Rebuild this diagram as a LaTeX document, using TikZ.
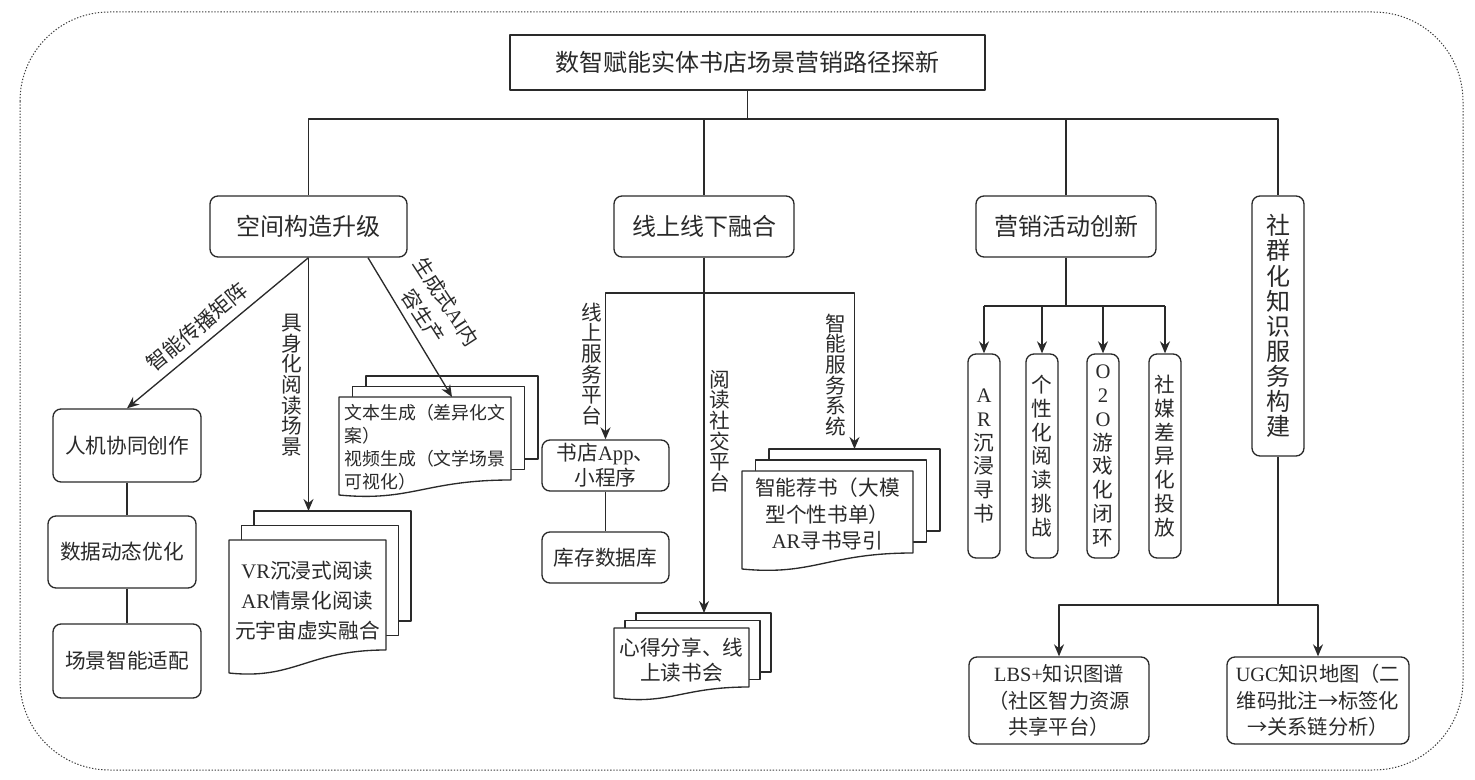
\documentclass[tikz,border=0pt]{standalone}
\usepackage{fontspec}
\setmainfont{Noto Sans CJK SC}
\newfontfamily\lat{Liberation Serif}
\usetikzlibrary{arrows.meta}
\definecolor{ink}{HTML}{2A2A2A}
\definecolor{bord}{HTML}{3A3A3A}
\def\pxu{0.75pt}
\newcommand\fT{\fontsize{18pt}{22pt}\selectfont}
\newcommand\fD{\fontsize{18pt}{18.8pt}\selectfont}
\newcommand\fB{\fontsize{15.5pt}{19pt}\selectfont}
\newcommand\fBb{\fontsize{15.5pt}{18.8pt}\selectfont}
\newcommand\fVR{\fontsize{15.5pt}{22.5pt}\selectfont}
\newcommand\fRec{\fontsize{15.5pt}{20pt}\selectfont}
\newcommand\fL{\fontsize{15.5pt}{15.5pt}\selectfont}
\newcommand\fLr{\fontsize{15pt}{20.5pt}\selectfont}
\newcommand\fS{\fontsize{13.4pt}{17.3pt}\selectfont}
\newcommand\fC{\fontsize{15.5pt}{17.8pt}\selectfont}
\newcommand\fBd{\fontsize{15.2pt}{20pt}\selectfont}
% multiple-documents shape: name, xl, yt, xr, ybr, ybl, dx, dy
\newcommand\mdocs[8]{%
  \draw[docline] ({#2+2*#7},{#3+2*#8}) rectangle ({#4+2*#7},{#5+2*#8});
  \draw[docline] ({#2+#7},{#3+#8}) rectangle ({#4+#7},{#5+#8});
  \draw[docline] (#2,#3) -- (#4,#3) -- (#4,#5)
     .. controls ({#2+0.5*(#4-#2)},#5) and ({#2+0.42*(#4-#2)},{#6+7}) .. (#2,#6) -- cycle;
  \coordinate (#1-top) at ({(#2+#4)/2+2*#7},{#3+2*#8});
  \coordinate (#1-ftop) at ({(#2+#4)/2+2*#7},#3);
}
\begin{document}
\begin{tikzpicture}[x=0.75pt,y=-0.75pt, line join=round,
  ln/.style={draw=ink, line width=1pt},
  arr/.style={ln, -{Stealth[length=9pt,width=7.5pt]}},
  box/.style={draw=ink, line width=1pt, rounded corners=6pt, fill=white, inner sep=0pt, align=center, text=ink},
  lab/.style={inner sep=0pt, align=center, text=ink, font=\fL},
  docline/.style={draw=ink, line width=1pt, fill=white},
  dtext/.style={inner sep=0pt, text=ink},
]
\useasboundingbox (0,0) rectangle (1475,780);
\draw[draw=bord, line width=0.75pt, dash pattern=on 1pt off 1.3pt, rounded corners=67pt] (20,12) rectangle (1463,770);

% title and level 1
\node[box, rounded corners=0pt, line width=1.3pt, font=\fT, minimum width=475*\pxu, minimum height=55*\pxu] (T) at (747.5,62.5) {数智赋能实体书店场景营销路径探新};
\node[box, font=\fT, minimum width=197*\pxu, minimum height=61*\pxu] (A) at (308.5,226.5) {空间构造升级};
\node[box, font=\fT, minimum width=180*\pxu, minimum height=61*\pxu] (B) at (704,226.5) {线上线下融合};
\node[box, font=\fT, minimum width=180*\pxu, minimum height=61*\pxu] (C) at (1066,226.5) {营销活动创新};
\node[box, font=\fD, minimum width=52*\pxu, minimum height=260*\pxu] (D) at (1278,326) {社\\群\\化\\知\\识\\服\\务\\构\\建};

\coordinate (tb) at (747.5,119);
\draw[ln] (T.south) -- (tb);
\draw[ln] (A.north) |- (tb) -| (D.north);
\draw[ln] (B.north) -- (B.north |- tb);
\draw[ln] (C.north) -- (C.north |- tb);

% branch A
\node[box, font=\fB, minimum width=148*\pxu, minimum height=73*\pxu] (A1) at (127,445.5) {人机协同创作};
\node[box, font=\fB, minimum width=148*\pxu, minimum height=72*\pxu] (A2) at (122,552) {数据动态优化};
\node[box, font=\fB, minimum width=148*\pxu, minimum height=74*\pxu] (A3) at (127,661) {场景智能适配};
\draw[ln] (A1.south) -- (A1.south |- A2.north);
\draw[ln] (A3.north |- A2.south) -- (A3.north);
\draw[arr] (A.south) -- (A1.north);
\node[lab, rotate=40] (LA1) at (197,327) {智能传播矩阵};

\mdocs{vr}{229}{540}{386}{650}{673}{12.5}{-14.5}
\node[dtext, font=\fVR, align=center] (VR) at (307.5,601) {{\lat VR}沉浸式阅读\\{\lat AR}情景化阅读\\元宇宙虚实融合};
\draw[arr] (A.south) -- (A.south |- vr-top);
\node[lab] (LA2) at (292,385) {具\\身\\化\\阅\\读\\场\\景};

\mdocs{txt}{339}{397}{511}{480}{495}{13.5}{-10.5}
\node[dtext, font=\fS, align=left] (TX) at (425,447) {文本生成（差异化文\\案）\\视频生成（文学场景\\可视化）};
\draw[arr] ([xshift=44.6pt]A.south) -- (txt-ftop);
\node[lab, font=\fLr, rotate=-57] (LA3) at (435,309) {生成式{\lat AI}内\\容生产};

% branch B
\coordinate (bb) at (704,293);
\draw[ln] (B.south) -- (bb);
\node[box, font=\fBb, minimum width=127*\pxu, minimum height=51*\pxu] (B1) at (605.5,465.5) {书店{\lat App}、\\小程序};
\node[box, font=\fB, minimum width=127*\pxu, minimum height=51*\pxu] (B2) at (605.5,557.5) {库存数据库};
\draw[ln] (B1.south) -- (B2.north);
\draw[arr] (bb) -| (B1.north);
\node[lab] (LB1) at (592,364) {线\\上\\服\\务\\平\\台};

\mdocs{xd}{614}{628}{749}{687}{698}{11}{-7.5}
\node[dtext, font=\fBb, align=center] (XD) at (681.5,660.5) {心得分享、线\\上读书会};
\draw[arr] (B.south) -- (B.south |- xd-top);
\node[lab] (LB2) at (720,431) {阅\\读\\社\\交\\平\\台};

\mdocs{rec}{742}{471}{913}{553}{569}{13.5}{-11}
\node[dtext, font=\fRec, align=center] (REC) at (827.5,514) {智能荐书（大模\\型个性书单）\\{\lat AR}寻书导引};
\draw[arr] (bb) -| (rec-top);
\node[lab] (LB3) at (836,375) {智\\能\\服\\务\\系\\统};

% branch C
\coordinate (cb) at (1066,306);
\draw[ln] (C.south) -- (cb);
\node[box, font=\fC, minimum width=32*\pxu, minimum height=204*\pxu] (C1) at (984,456) {{\lat A}\\{\lat R}\\沉\\浸\\寻\\书};
\node[box, font=\fC, minimum width=32*\pxu, minimum height=204*\pxu] (C2) at (1042,456) {个\\性\\化\\阅\\读\\挑\\战};
\node[box, font=\fC, minimum width=32*\pxu, minimum height=204*\pxu] (C3) at (1103,456) {{\lat O}\\{\lat 2}\\{\lat O}\\游\\戏\\化\\闭\\环};
\node[box, font=\fC, minimum width=32*\pxu, minimum height=204*\pxu] (C4) at (1165,456) {社\\媒\\差\\异\\化\\投\\放};
\draw[ln] (C1.north |- cb) -- (C4.north |- cb);
\foreach \n in {C1,C2,C3,C4} \draw[arr] (\n.north |- cb) -- (\n.north);

% branch D
\coordinate (db) at (1278,605);
\draw[ln] (D.south) -- (db);
\node[box, font=\fBd, minimum width=180*\pxu, minimum height=87*\pxu] (D1) at (1059,700.5) {{\lat LBS+}知识图谱\\（社区智力资源\\共享平台）};
\node[box, font=\fBd, minimum width=182*\pxu, minimum height=87*\pxu] (D2) at (1318,700.5) {{\lat UGC}知识地图（二\\维码批注→标签化\\→关系链分析）};
\draw[arr] (db) -| (D1.north);
\draw[arr] (db) -| (D2.north);
\end{tikzpicture}
\end{document}
